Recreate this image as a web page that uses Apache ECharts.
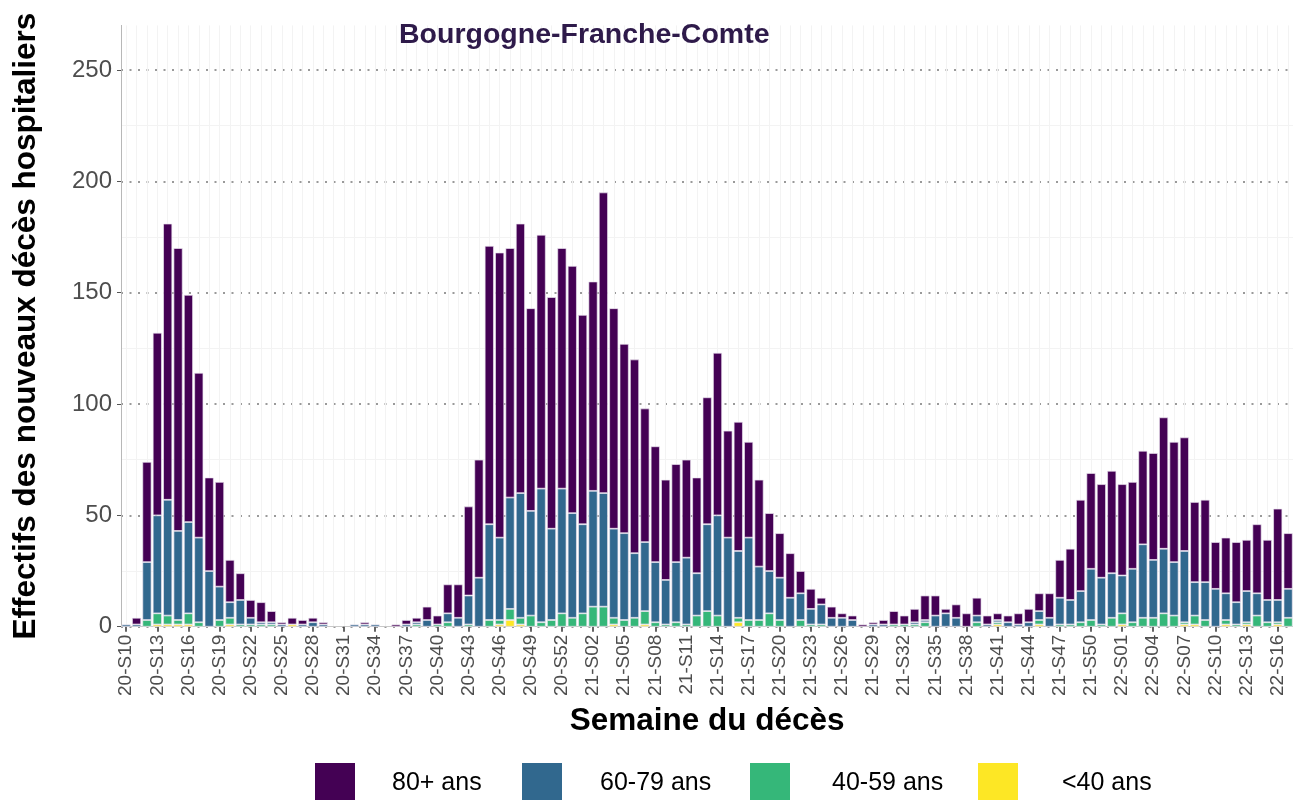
<!DOCTYPE html>
<html><head><meta charset="utf-8">
<script src="https://cdn.jsdelivr.net/npm/echarts@6/dist/echarts.min.js"></script>
<style>html,body{margin:0;padding:0;background:#fff}#c{width:1293px;height:800px}</style>
</head><body><div id="c"></div>
<script>
const categories = [
"20-S10","20-S11","20-S12","20-S13","20-S14","20-S15","20-S16","20-S17","20-S18","20-S19","20-S20","20-S21","20-S22","20-S23","20-S24","20-S25","20-S26","20-S27","20-S28","20-S29","20-S30","20-S31","20-S32","20-S33","20-S34","20-S35","20-S36","20-S37","20-S38","20-S39","20-S40","20-S41","20-S42","20-S43","20-S44","20-S45","20-S46","20-S47","20-S48","20-S49","20-S50","20-S51","20-S52","20-S53",
"21-S01","21-S02","21-S03","21-S04","21-S05","21-S06","21-S07","21-S08","21-S09","21-S10","21-S11","21-S12","21-S13","21-S14","21-S15","21-S16","21-S17","21-S18","21-S19","21-S20","21-S21","21-S22","21-S23","21-S24","21-S25","21-S26","21-S27","21-S28","21-S29","21-S30","21-S31","21-S32","21-S33","21-S34","21-S35","21-S36","21-S37","21-S38","21-S39","21-S40","21-S41","21-S42","21-S43","21-S44","21-S45","21-S46","21-S47","21-S48","21-S49","21-S50","21-S51","21-S52",
"22-S01","22-S02","22-S03","22-S04","22-S05","22-S06","22-S07","22-S08","22-S09","22-S10","22-S11","22-S12","22-S13","22-S14","22-S15","22-S16","22-S17"];

const age80plus = [0,3,45,82,124,127,102,74,42,47,19,12,8,9,5,1,3,2,2,1,0,0,0,1,0,0,1,2,2,6,4,13,15,40,53,125,128,112,121,91,114,104,108,111,
94,94,135,99,85,87,60,52,45,44,44,43,57,73,48,58,43,39,26,20,20,10,9,3,5,2,2,1,1,2,6,4,6,11,9,2,6,6,8,4,3,3,5,6,8,11,17,23,41,43,42,46,
41,39,42,48,59,54,51,36,37,21,25,27,23,31,27,41,25];
const age60_79 = [1,1,26,44,52,40,41,38,25,15,7,11,3,1,1,1,0,1,2,1,0,0,1,1,1,0,0,1,1,3,0,4,4,13,22,43,37,50,56,47,60,41,56,47,
40,52,51,40,39,29,31,27,20,27,30,19,39,45,40,30,37,24,19,19,13,12,7,9,4,4,3,0,1,1,0,0,1,1,5,6,4,0,3,1,1,2,1,2,4,4,12,11,14,23,21,20,
17,24,33,26,29,24,32,15,17,17,12,10,14,10,10,10,13];
const age40_59 = [0,0,3,5,4,2,5,2,0,3,3,1,1,1,1,0,0,0,0,0,0,0,0,0,0,0,0,0,1,0,1,2,0,1,0,3,2,5,3,5,2,3,6,4,
6,9,9,3,3,4,6,2,1,2,1,5,7,5,0,2,3,3,6,3,0,3,1,1,0,0,0,0,0,0,1,1,1,2,0,0,0,0,2,0,1,0,0,0,2,0,1,1,2,3,1,4,
5,2,4,4,6,5,1,4,3,0,2,1,1,5,2,1,4];
const ageUnder40 = [0,0,0,1,1,1,1,0,0,0,1,0,0,0,0,0,1,0,0,0,0,0,0,0,0,0,0,0,0,0,0,0,0,0,0,0,1,3,1,0,0,0,0,0,
0,0,0,1,0,0,1,0,0,0,0,0,0,0,0,2,0,0,0,0,0,0,0,0,0,0,0,0,0,0,0,0,0,0,0,0,0,0,0,0,1,0,0,0,1,0,0,0,0,0,0,0,
1,0,0,0,0,0,1,1,0,0,1,0,1,0,0,1,0];

const seriesNames = ["80+ ans","60-79 ans","40-59 ans","<40 ans"];
const colors = ["#440154","#31688E","#35B779","#FDE725"];
const yMax = 250, yStep = 50, yTop = 270;

const FONT = "Liberation Sans, Arial, sans-serif";
const chart = echarts.init(document.getElementById('c'), null, {renderer:'canvas'});

// layout (pixels)
const GL = 121, GW = 1172.3, BASE = 626.7, PXU = 2.227;
const band = GW / categories.length;
const top250 = BASE - yMax * PXU;
const topFull = BASE - yTop * PXU;

function mk(name, data, idx){
  return {
    name: name, type: 'bar', stack: 'total',
    data: data.map(function(v){ return v === 0 ? '-' : v; }),
    xAxisIndex: 0, yAxisIndex: 0,
    barCategoryGap: '12%',
    itemStyle: {color: colors[idx], borderColor: 'rgba(235,228,240,0.85)', borderWidth: 0.8},
    emphasis: {disabled: true}
  };
}

const legendLefts = [315, 522, 750, 978];
const legendPads = [32, 33, 37, 39];
const legends = seriesNames.map(function(n, i){
  return {
    data: [n], left: legendLefts[i], top: 763, padding: 0,
    icon: 'rect', itemWidth: 40, itemHeight: 40, selectedMode: false,
    formatter: function(t){ return '{a|' + t + '}'; },
    textStyle: {fontFamily: FONT, fontSize: 25, color: '#000',
      rich: {a: {padding: [0,0,0,legendPads[i]], fontSize: 25, fontFamily: FONT, color: '#000'}}},
    itemStyle: {borderWidth: 0}
  };
});

chart.setOption({
  animation: false,
  textStyle: {fontFamily: FONT},
  title: {
    text: 'Bourgogne-Franche-Comte', left: 399, top: 21, padding: 0,
    textStyle: {fontFamily: FONT, fontWeight: 'bold', fontSize: 28.5, color: '#2e1a4a'}
  },
  grid: [
    {left: GL, top: top250, width: GW, height: BASE - top250, containLabel: false, outerBoundsMode: 'none'},
    {left: GL + band/2, top: topFull, width: GW - band, height: BASE - topFull, containLabel: false, outerBoundsMode: 'none'},
    {left: GL, top: topFull, width: GW, height: BASE - topFull, containLabel: false, outerBoundsMode: 'none'}
  ],
  legend: legends,
  xAxis: [
    {
      type: 'category', data: categories, gridIndex: 0,
      boundaryGap: true,
      name: 'Semaine du décès', nameLocation: 'middle', nameGap: 79,
      nameTextStyle: {fontFamily: FONT, fontWeight: 'bold', fontSize: 31.5, color: '#000'},
      axisLine: {show: true, lineStyle: {color: '#c8c8c8', width: 1}},
      axisTick: {show: true, interval: 2, alignWithLabel: true, length: 5, lineStyle: {color: '#333', width: 1.5}},
      axisLabel: {interval: 2, rotate: 90, fontSize: 19, color: '#4d4d4d', margin: 8, fontFamily: FONT},
      splitLine: {show: false}
    },
    {
      type: 'value', gridIndex: 1, min: 0, max: categories.length - 1, interval: 1,
      axisLine: {show: false}, axisTick: {show: false}, axisLabel: {show: false},
      splitLine: {show: true, lineStyle: {color: '#f3f3f3', width: 1}}
    },
    {
      type: 'value', gridIndex: 2, min: 0, max: 1, show: false
    }
  ],
  yAxis: [
    {
      type: 'value', gridIndex: 0, min: 0, max: yMax, interval: yStep,
      axisLine: {show: false},
      axisTick: {show: true, length: 4, lineStyle: {color: '#555', width: 1}},
      axisLabel: {fontSize: 24, color: '#4d4d4d', margin: 9, fontFamily: FONT},
      splitLine: {show: true, lineStyle: {color: '#9a9a9a', width: 2, type: [2, 6.5]}},
      minorTick: {show: false, splitNumber: 2},
      minorSplitLine: {show: true, lineStyle: {color: '#f3f3f3', width: 1}}
    },
    {
      type: 'value', gridIndex: 1, min: 0, max: yTop, show: false
    },
    {
      type: 'value', gridIndex: 2, min: 0, max: yTop,
      name: 'Effectifs des nouveaux décès hospitaliers', nameLocation: 'middle', nameGap: 79,
      nameRotate: 90,
      nameTextStyle: {fontFamily: FONT, fontWeight: 'bold', fontSize: 31.5, color: '#000'},
      axisLine: {show: true, lineStyle: {color: '#b8b8b8', width: 1}},
      axisTick: {show: false}, axisLabel: {show: false},
      splitLine: {show: false}
    }
  ],
  series: [
    mk(seriesNames[3], ageUnder40, 3),
    mk(seriesNames[2], age40_59, 2),
    mk(seriesNames[1], age60_79, 1),
    mk(seriesNames[0], age80plus, 0)
  ]
});
</script>
</body></html>
